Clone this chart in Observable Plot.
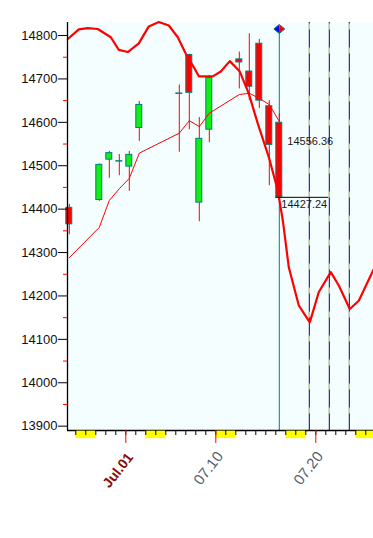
<!DOCTYPE html>
<html>
<head>
<meta charset="utf-8">
<script src="https://cdn.jsdelivr.net/npm/d3@7"></script>
<script src="https://cdn.jsdelivr.net/npm/@observablehq/plot@0.6"></script>
<style>
  html, body { margin: 0; padding: 0; background: #ffffff; }
  #chart svg { display: block; }
</style>
</head>
<body>
<div id="chart"></div>
<script>
// ---- data ----
const candleDates = ["2021-06-25","2021-06-28","2021-06-29","2021-06-30","2021-07-01","2021-07-02",
  "2021-07-06","2021-07-07","2021-07-08","2021-07-09","2021-07-12","2021-07-13","2021-07-14","2021-07-15","2021-07-16"];
const opens  = [14403, 14421, 14514, 14509.5, 14498, 14587, 14666.5, 14755, 14415, 14583, 14745, 14717, 14781, 14637, 14599];
const highs  = [14411, 14504, 14533, 14526,   14533, 14648, 14686,   14757, 14611, 14708, 14762, 14804, 14791, 14650, 14620];
const lows   = [14341, 14418, 14471, 14477,   14441, 14556, 14531,   14583, 14371, 14553, 14677, 14650, 14632, 14454, 14421];
const closes = [14365, 14502, 14529, 14510.5, 14525, 14640, 14665.5, 14668, 14562, 14702, 14738, 14682, 14650, 14548, 14427.24];
const maValues = [14288, 14358, 14420, 14447, 14471, 14529, 14575, 14604, 14590, 14621, 14664, 14667, 14655, 14641, 14602];

// forecast curve: days relative to Jul 1, values
const curveDays   = [-5.8,-4.7,-3.8,-2.8,-1.5,-0.7,0.2,1.3,2.3,3.3,4.3,5.2,6.0,6.8,7.3,8.7,9.5,10.4,11.4,12.3,13.2,14.3,15.2,15.7,16.3,17.3,18.4,19.3,20.5,21.3,22.4,23.3,24.8];
const curveValues = [14792,14814,14817,14815,14796,14767,14762,14782,14821,14831,14823,14796,14758,14727,14706,14706,14717,14741,14717,14666,14597,14520,14443,14374,14266,14178,14139,14209,14255,14224,14170,14189,14262];

const futureDates = ["2021-07-19","2021-07-21","2021-07-23"];
const weekendStarts = ["2021-06-26","2021-07-03","2021-07-10","2021-07-17","2021-07-24"];
const yTicks = [13900,14000,14100,14200,14300,14400,14500,14600,14700,14800];
const yMinorTicks = [13950,14050,14150,14250,14350,14450,14550,14650,14750];
const xLabelDates = ["2021-07-01","2021-07-10","2021-07-20"];
const xLabels = ["Jul.01","07.10","07.20"];
const lastClose = 14427.24;
const otherLevel = 14556.36;
const markerValue = 14815;
const lineEndDate = "2021-07-21";

// ---- build ----
const DAY = 864e5;
const OFF = 0.35 * DAY;
const HALF = 0.3 * DAY;
const P = s => new Date(s + "T00:00:00Z");
const jul1 = +P("2021-07-01");
const xDomain = [new Date(jul1 - 5.83 * DAY), new Date(jul1 + 24.77 * DAY)];
const yDomain = [13890, 14830];

const candles = candleDates.map((d, i) => ({
  date: new Date(+P(d) + OFF), open: opens[i], high: highs[i], low: lows[i], close: closes[i], ma: maValues[i]
}));
const curve = curveDays.map((d, i) => ({date: new Date(jul1 + d * DAY), value: curveValues[i]}));
const futures = futureDates.map(d => new Date(+P(d) + OFF));
const weekends = weekendStarts.map(d => ({x1: P(d), x2: new Date(Math.min(+P(d) + 2 * DAY, +xDomain[1]))}));
const dayTicks = d3.utcDay.range(P("2021-06-26"), xDomain[1]);
const labelRows = xLabelDates.map((d, i) => ({date: P(d), text: xLabels[i]}));
const last = candles[candles.length - 1];

const leftHalf = {draw(c) { c.moveTo(0, -4.5); c.lineTo(-5.5, 0); c.lineTo(0, 4.5); c.closePath(); }};
const rightHalf = {draw(c) { c.moveTo(0, -4.5); c.lineTo(5.5, 0); c.lineTo(0, 4.5); c.closePath(); }};
const diamond = {draw(c) { c.moveTo(0, -4.5); c.lineTo(5.5, 0); c.lineTo(0, 4.5); c.lineTo(-5.5, 0); c.closePath(); }};

const chart = Plot.plot({
  width: 373,
  height: 538,
  marginLeft: 67,
  marginRight: 0,
  marginTop: 22,
  marginBottom: 108,
  style: {fontFamily: "'Liberation Sans', Arial, sans-serif", fontSize: "12px", background: "#ffffff", overflow: "visible"},
  x: {type: "utc", domain: xDomain},
  y: {domain: yDomain},
  marks: [
    Plot.frame({fill: "#f5fefe", stroke: null}),
    // forecast date markers
    Plot.ruleX(futures, {stroke: "#000080", strokeWidth: 1}),
    Plot.ruleX(futures, {stroke: "#ffff00", strokeWidth: 1, strokeDasharray: "6 18", strokeDashoffset: -1.5}),
    // last bar vertical
    Plot.ruleX([last], {x: "date", y1: markerValue, y2: yDomain[0], stroke: "#008080", strokeWidth: 1}),
    // candles
    Plot.ruleX(candles, {x: "date", y1: "low", y2: "high", stroke: "#ff0000", strokeWidth: 1}),
    Plot.rect(candles, {
      x1: d => new Date(+d.date - HALF), x2: d => new Date(+d.date + HALF),
      y1: "open", y2: "close",
      fill: d => d.close >= d.open ? "#11ee11" : "#ff0000",
      stroke: "#008080", strokeWidth: 1
    }),
    // moving average
    Plot.line(candles, {x: "date", y: "ma", stroke: "#ff0000", strokeWidth: 1}),
    // forecast curve
    Plot.line(curve, {x: "date", y: "value", stroke: "#ff0000", strokeWidth: 2.2}),
    // last close line + labels
    Plot.ruleY([lastClose], {x1: P("2021-07-16"), x2: new Date(+P(lineEndDate) + 0.3 * DAY), stroke: "#000000", strokeWidth: 1}),
    Plot.text([otherLevel], {x: last.date, y: d => d, text: d => d.toFixed(2), dx: 8, textAnchor: "start", fontSize: 11, fill: "#1a1a1a"}),
    Plot.text([lastClose], {x: last.date, y: d => d, text: d => d.toFixed(2), dx: 2, dy: 7, textAnchor: "start", fontSize: 11, fill: "#1a1a1a"}),
    // marker diamond
    Plot.dot([last], {x: "date", y: () => markerValue, symbol: leftHalf, fill: "#0000ff", stroke: null}),
    Plot.dot([last], {x: "date", y: () => markerValue, symbol: rightHalf, fill: "#ff0000", stroke: null}),
    Plot.dot([last], {x: "date", y: () => markerValue, symbol: diamond, fill: "none", stroke: "#008080", strokeWidth: 1}),
    // axes lines
    Plot.ruleX([xDomain[0]], {stroke: "#000000", strokeWidth: 1.3}),
    Plot.ruleY([yDomain[0]], {stroke: "#000000", strokeWidth: 1.3}),
    // y axis
    Plot.axisY({ticks: yTicks, tickSize: 9, tickPadding: 1, fontSize: 13, tickFormat: d => String(d), fill: "#111111", stroke: "#000000", label: null}),
    Plot.axisY({ticks: yMinorTicks, tickSize: 4, stroke: "#ff0000", tickFormat: () => "", label: null}),
    // x axis: weekend blocks, day ticks, major ticks, labels
    Plot.ruleY(weekends, {x1: "x1", x2: "x2", y: () => yDomain[0], dy: 3.9, strokeWidth: 7.5, stroke: "#ffff00"}),
    Plot.axisX({ticks: dayTicks, tickSize: 5, stroke: "#000000", tickFormat: () => "", label: null}),
    Plot.axisX({ticks: labelRows.map(d => d.date), tickSize: 13, stroke: "#ff0000", tickFormat: () => "", label: null}),
    Plot.text(labelRows.filter((d, i) => i === 0), {x: "date", text: "text", frameAnchor: "bottom", dx: 8, dy: 27, rotate: -52, textAnchor: "end", fontSize: 14, fontWeight: "bold", fill: "#8b0a0a"}),
    Plot.text(labelRows.filter((d, i) => i > 0), {x: "date", text: "text", frameAnchor: "bottom", dx: 8, dy: 26, rotate: -52, textAnchor: "end", fontSize: 15, fill: "#54606c"})
  ]
});
document.getElementById("chart").appendChild(chart);
</script>
</body>
</html>
